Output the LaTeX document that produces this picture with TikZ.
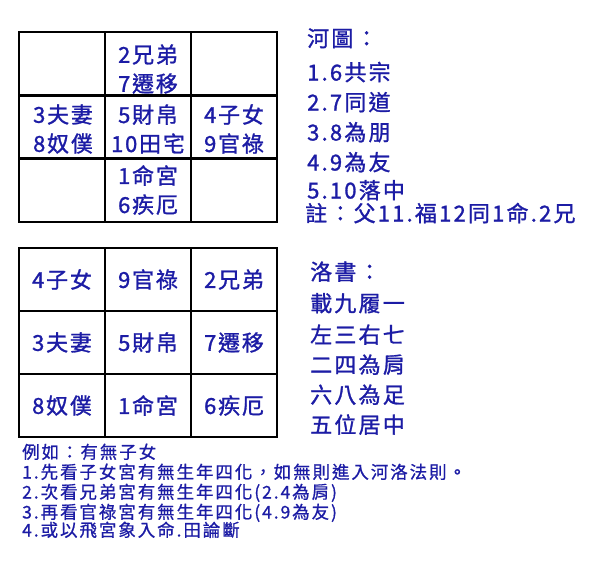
\documentclass[tikz,border=0pt]{standalone}
\usepackage{fontspec}
\newfontfamily\cjkgrid[LetterSpace=8,FakeBold=1.2]{Noto Sans CJK TC}
\newfontfamily\cjkside[LetterSpace=10,FakeBold=1.2]{Noto Sans CJK TC}
\newfontfamily\cjknote[LetterSpace=11,FakeBold=0.8]{Noto Sans CJK TC}
\definecolor{ink}{RGB}{28,28,165}
\tikzset{
  cell/.style={draw=black, line width=2.6pt, minimum width=86pt, minimum height=63pt,
    inner sep=0pt, outer sep=0pt},
  celltext/.style={inner sep=0pt, text=ink, align=center,
    font=\cjkgrid\fontsize{22}{29}\selectfont},
  sideline/.style={anchor=base west, inner sep=0pt, text=ink,
    font=\cjkside\fontsize{22}{24}\selectfont},
  noteline/.style={anchor=base west, inner sep=0pt, text=ink,
    font=\cjknote\fontsize{17.5}{20}\selectfont}
}
\begin{document}
\begin{tikzpicture}[x=1pt,y=-1pt]
\useasboundingbox[fill=white] (0,0) rectangle (599,568);
% top grid (He Tu)
\node[cell, minimum height=63.33pt] (t11) at (62,63.67) {};
\node[cell, minimum height=63.33pt] (t12) at (148,63.67) {};
\node[cell, minimum height=63.33pt] (t13) at (234,63.67) {};
\node[cell, minimum height=63.33pt] (t21) at (62,127) {};
\node[cell, minimum height=63.33pt] (t22) at (148,127) {};
\node[cell, minimum height=63.33pt] (t23) at (234,127) {};
\node[cell, minimum height=63.33pt] (t31) at (62,190.33) {};
\node[cell, minimum height=63.33pt] (t32) at (148,190.33) {};
\node[cell, minimum height=63.33pt] (t33) at (234,190.33) {};
\node[celltext] (x12) at (148,69) {2兄弟\\7遷移};
\node[celltext] (x21) at (63,129) {3夫妻\\8奴僕};
\node[celltext] (x22) at (148,129) {5財帛\\10田宅};
\node[celltext] (x23) at (234,129) {4子女\\9官祿};
\node[celltext] (x32) at (148,190) {1命宮\\6疾厄};
% bottom grid (Luo Shu)
\node[cell] (b11) at (62,279.5) {};
\node[cell] (b12) at (148,279.5) {};
\node[cell] (b13) at (234,279.5) {};
\node[cell] (b21) at (62,342.5) {};
\node[cell] (b22) at (148,342.5) {};
\node[cell] (b23) at (234,342.5) {};
\node[cell] (b31) at (62,405.5) {};
\node[cell] (b32) at (148,405.5) {};
\node[cell] (b33) at (234,405.5) {};
\node[celltext] (y11) at (b11) {4子女};
\node[celltext] (y12) at (b12) {9官祿};
\node[celltext] (y13) at (b13) {2兄弟};
\node[celltext] (y21) at (b21) {3夫妻};
\node[celltext] (y22) at (b22) {5財帛};
\node[celltext] (y23) at (b23) {7遷移};
\node[celltext] (y31) at (b31) {8奴僕};
\node[celltext] (y32) at (b32) {1命宮};
\node[celltext] (y33) at (b33) {6疾厄};
% He Tu text
\node[sideline] (h0) at (307,46.5) {河圖：};
\node[sideline] (h1) at (307,80.5) {1.6共宗};
\node[sideline] (h2) at (307,110.5) {2.7同道};
\node[sideline] (h3) at (307,140.5) {3.8為朋};
\node[sideline] (h4) at (307,170.5) {4.9為友};
\node[sideline] (h5) at (307,198.5) {5.10落中};
\node[sideline] (h6) at (305,221.5) {註：父11.福12同1命.2兄};
% Luo Shu text
\node[sideline] (l0) at (310,280) {洛書：};
\node[sideline] (l1) at (310,311.5) {載九履一};
\node[sideline] (l2) at (310,343) {左三右七};
\node[sideline] (l3) at (310,373) {二四為肩};
\node[sideline] (l4) at (310,403) {六八為足};
\node[sideline] (l5) at (310,433) {五位居中};
% notes
\node[noteline] (n0) at (22,458.5) {例如：有無子女};
\node[noteline] (n1) at (22,478.5) {1.先看子女宮有無生年四化，如無則進入河洛法則。};
\node[noteline] (n2) at (22,498.5) {2.次看兄弟宮有無生年四化(2.4為肩)};
\node[noteline] (n3) at (22,518.5) {3.再看官祿宮有無生年四化(4.9為友)};
\node[noteline] (n4) at (22,536.5) {4.或以飛宮象入命.田論斷};
\end{tikzpicture}
\end{document}
